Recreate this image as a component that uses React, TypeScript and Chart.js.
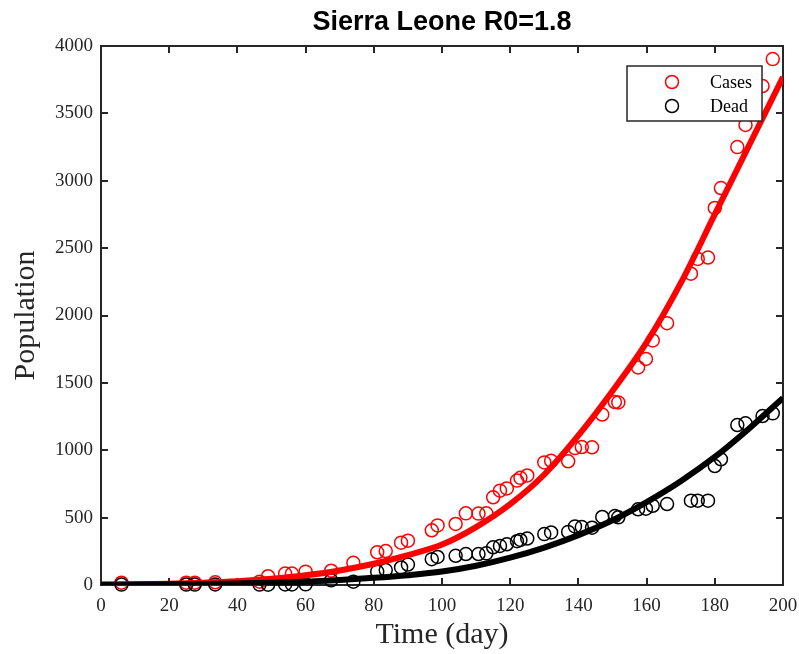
import { useEffect, useRef } from "react";
import { Chart, registerables } from "chart.js";

Chart.register(...registerables);

// ---- data ----
const days = [6, 25, 27.5, 33.5, 46.5, 49, 54, 56, 60, 67.5, 74, 81, 83.5, 88, 90, 97, 98.7, 104, 107, 110.7, 113, 115, 117, 119, 122, 123, 125, 130, 132, 137, 139, 141, 144, 147, 150.7, 151.7, 157.5, 159.8, 161.8, 166, 173, 175, 178, 180, 181.8, 186.6, 189, 194, 197];
const cases = [17, 17, 17, 20, 25, 65, 85, 85, 99, 106, 165, 243, 252, 314, 329, 406, 442, 453, 532, 530, 532, 651, 700, 717, 775, 795, 813, 910, 922, 918, 1016, 1024, 1022, 1265, 1358, 1355, 1615, 1678, 1815, 1943, 2310, 2420, 2430, 2798, 2946, 3250, 3414, 3703, 3903];
const dead = [3, 3, 3, 4, 3, 2, 4, 4, 5, 35, 25, 99, 111, 130, 152, 192, 208, 217, 230, 230, 235, 280, 290, 302, 325, 334, 345, 378, 390, 394, 435, 430, 425, 505, 512, 502, 562, 566, 588, 601, 626, 626, 626, 883, 933, 1187, 1200, 1254, 1274];

const fitDays = [0, 10, 20, 30, 40, 50, 60, 70, 80, 90, 100, 110, 120, 130, 140, 150, 160, 170, 180, 190, 200];
const fitCases = [4, 6, 10, 17, 28, 46, 72, 108, 158, 222, 300, 430, 600, 820, 1110, 1440, 1800, 2240, 2750, 3260, 3770];
const fitDead = [2, 3, 5, 8, 12, 17, 25, 37, 53, 73, 100, 143, 203, 278, 370, 480, 615, 770, 950, 1160, 1388];

const xTicks = [0, 20, 40, 60, 80, 100, 120, 140, 160, 180, 200];
const yTicks = [0, 500, 1000, 1500, 2000, 2500, 3000, 3500, 4000];

const titleText = "Sierra Leone R0=1.8";
const xTitle = "Time (day)";
const yTitle = "Population";
const casesLabel = "Cases";
const deadLabel = "Dead";

// ---- styles ----
const AXIS = "#262626";
const SERIF = "'Liberation Serif', 'DejaVu Serif', serif";
const RED = "#ff0000";
const BLACK = "#000000";
const TICK_LEN = 7;

const framePlugin = {
  id: "frame",
  beforeDatasetsDraw(chart: any) {
    const { ctx, chartArea: a, scales } = chart;
    ctx.save();
    ctx.strokeStyle = AXIS;
    ctx.lineWidth = 2;
    ctx.beginPath();
    for (const t of scales.x.ticks) {
      const p = Math.round(scales.x.getPixelForValue(t.value));
      ctx.moveTo(p, a.bottom);
      ctx.lineTo(p, a.bottom - TICK_LEN);
      ctx.moveTo(p, a.top);
      ctx.lineTo(p, a.top + TICK_LEN);
    }
    for (const t of scales.y.ticks) {
      const p = Math.round(scales.y.getPixelForValue(t.value));
      ctx.moveTo(a.left, p);
      ctx.lineTo(a.left + TICK_LEN, p);
      ctx.moveTo(a.right, p);
      ctx.lineTo(a.right - TICK_LEN, p);
    }
    ctx.stroke();
    ctx.strokeRect(a.left, a.top, a.right - a.left, a.bottom - a.top);
    ctx.restore();
  },
  afterDraw(chart: any) {
    const { ctx, chartArea: a } = chart;
    ctx.save();
    ctx.fillStyle = "#000";
    ctx.font = "bold 27px 'Liberation Sans', Arial, sans-serif";
    ctx.textAlign = "center";
    ctx.textBaseline = "middle";
    ctx.fillText(titleText, (a.left + a.right) / 2, 23);
    ctx.restore();
  },
};

const legendPlugin = {
  id: "boxLegend",
  afterDatasetsDraw(chart: any) {
    const { ctx, chartArea: a } = chart;
    const items = chart.data.datasets
      .filter((d: any) => d.legendRank !== undefined)
      .sort((p: any, q: any) => p.legendRank - q.legendRank);
    const left = a.right - 156;
    const top = a.top + 20;
    const w = 135;
    const h = 55;
    ctx.save();
    ctx.fillStyle = "#fff";
    ctx.fillRect(left, top, w, h);
    ctx.strokeStyle = AXIS;
    ctx.lineWidth = 1.5;
    ctx.strokeRect(left, top, w, h);
    ctx.font = `18px ${SERIF}`;
    ctx.textBaseline = "middle";
    ctx.textAlign = "left";
    items.forEach((d: any, i: number) => {
      const y = top + 16 + i * 24;
      ctx.beginPath();
      ctx.strokeStyle = d.borderColor;
      ctx.lineWidth = 1.5;
      ctx.arc(left + 45, y, 6.5, 0, Math.PI * 2);
      ctx.stroke();
      ctx.fillStyle = "#000";
      ctx.fillText(d.label, left + 83, y + 1);
    });
    ctx.restore();
  },
};

export default function App() {
  const ref = useRef<HTMLCanvasElement | null>(null);

  useEffect(() => {
    document.body.style.margin = "0";
    const canvas = ref.current;
    if (!canvas) return;
    const pts = (xs: number[], ys: number[]) => xs.map((x, i) => ({ x, y: ys[i] }));
    const chart = new Chart(canvas, {
      type: "scatter",
      data: {
        datasets: [
          {
            label: "fitDead",
            data: pts(fitDays, fitDead),
            showLine: true,
            borderColor: BLACK,
            backgroundColor: BLACK,
            borderWidth: 6,
            pointRadius: 0,
            cubicInterpolationMode: "monotone",
            order: 0,
          } as any,
          {
            label: "fitCases",
            data: pts(fitDays, fitCases),
            showLine: true,
            borderColor: RED,
            backgroundColor: RED,
            borderWidth: 6,
            pointRadius: 0,
            cubicInterpolationMode: "monotone",
            order: 1,
          } as any,
          {
            label: deadLabel,
            data: pts(days, dead),
            showLine: false,
            borderColor: BLACK,
            backgroundColor: "rgba(0,0,0,0)",
            borderWidth: 1.5,
            pointRadius: 6.5,
            pointStyle: "circle",
            clip: false,
            order: 2,
            legendRank: 1,
          } as any,
          {
            label: casesLabel,
            data: pts(days, cases),
            showLine: false,
            borderColor: RED,
            backgroundColor: "rgba(0,0,0,0)",
            borderWidth: 1.5,
            pointRadius: 6.5,
            pointStyle: "circle",
            clip: false,
            order: 3,
            legendRank: 0,
          } as any,
        ],
      },
      options: {
        animation: false,
        responsive: false,
        devicePixelRatio: 1,
        layout: { padding: { top: 46, right: 16, left: 0, bottom: 0 } },
        plugins: {
          legend: { display: false },
          tooltip: { enabled: false },
          title: { display: false },
        },
        scales: {
          x: {
            type: "linear",
            min: 0,
            max: 200,
            afterBuildTicks: (s: any) => {
              s.ticks = xTicks.map((v) => ({ value: v }));
            },
            afterFit: (s: any) => {
              s.height = 69;
              s.paddingLeft = 0;
              s.paddingRight = 0;
            },
            grid: { display: false, drawTicks: false },
            border: { display: false },
            ticks: {
              padding: 10,
              color: AXIS,
              font: { family: SERIF, size: 19 },
              maxRotation: 0,
              autoSkip: false,
              callback: (v: any) => String(v),
            },
            title: {
              display: true,
              text: xTitle,
              color: AXIS,
              font: { family: SERIF, size: 30 },
              padding: { top: 0, bottom: 1 },
            },
          },
          y: {
            type: "linear",
            min: 0,
            max: 4000,
            afterBuildTicks: (s: any) => {
              s.ticks = yTicks.map((v) => ({ value: v }));
            },
            afterFit: (s: any) => {
              s.width = 101;
              s.paddingTop = 0;
              s.paddingBottom = 0;
            },
            grid: { display: false, drawTicks: false },
            border: { display: false },
            ticks: {
              padding: 8,
              color: AXIS,
              font: { family: SERIF, size: 19 },
              autoSkip: false,
              callback: (v: any) => String(v),
            },
            title: {
              display: true,
              text: yTitle,
              color: AXIS,
              font: { family: SERIF, size: 30 },
              padding: { top: 8, bottom: 0 },
            },
          },
        },
      } as any,
      plugins: [framePlugin, legendPlugin],
    });
    return () => chart.destroy();
  }, []);

  return (
    <div style={{ width: 799, height: 654 }}>
      <canvas ref={ref} width={799} height={654} style={{ display: "block" }} />
    </div>
  );
}
